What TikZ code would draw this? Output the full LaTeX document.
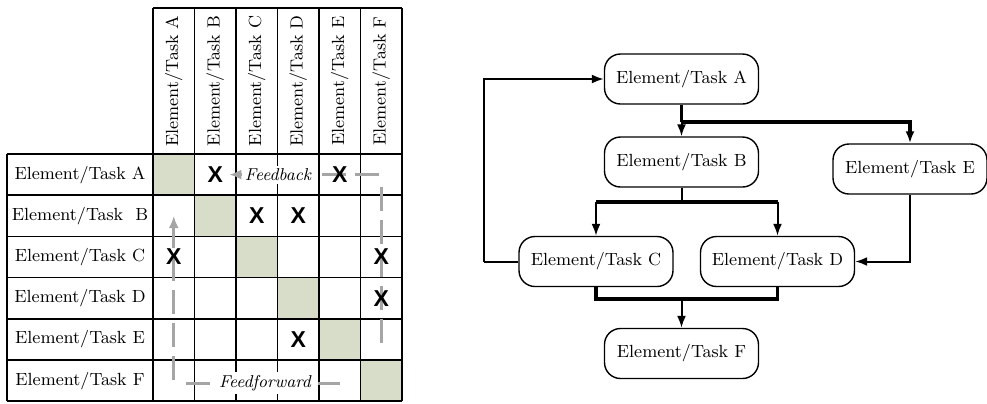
\documentclass[tikz,border=0pt]{standalone}
\usepackage{fontspec}
\usetikzlibrary{arrows.meta}
\newfontfamily\xfont{Liberation Sans}
\definecolor{diagfill}{RGB}{216,221,201}
\definecolor{loopgray}{RGB}{165,165,165}

\begin{document}
\begin{tikzpicture}[x=0.5pt, y=-0.5pt,
        grid/.style = {draw, line width=0.8pt},
        rowlabel/.style = {font=\fontsize{8.8}{10}\selectfont, inner sep=0pt},
        collabel/.style = {rowlabel, rotate=90},
        hit/.style = {font=\xfont\bfseries\fontsize{11.5}{13}\selectfont, inner sep=1pt},
        loopline/.style = {loopgray, line width=1.5pt, dash pattern=on 12pt off 4.5pt},
        looptext/.style = {fill=white, inner sep=1.5pt, font=\itshape\fontsize{8.6}{10}\selectfont},
        task/.style = {draw, line width=0.7pt, rounded corners=8pt, minimum width=77pt, minimum height=25pt, font=\fontsize{8.8}{10}\selectfont},
        flow/.style = {line width=1pt},
        bar/.style = {line width=1.8pt},
        tip/.style = {-{Latex[length=6pt, width=4.5pt]}}]
    \useasboundingbox (0,0) rectangle (987,403);

    % design structure matrix
    \foreach \i in {0,...,5}
        \fill[diagfill] (153+41.5*\i, 154+41.2*\i) rectangle ++(41.5,41.2);
    \foreach \i in {0,...,6}
        \draw[grid] (153+41.5*\i, 8) -- (153+41.5*\i, 401.2);
    \foreach \j in {0,...,6}
        \draw[grid] (7, 154+41.2*\j) -- (402, 154+41.2*\j);
    \draw[grid] (153,8) -- (402,8);
    \draw[grid] (7,154) -- (7,401.2);

    \foreach \t/\s [count=\k from 0] in {A/{}, B/{\ }, C/{}, D/{}, E/{}, F/{}} {
        \node[rowlabel] (r\t) at (80, 174.6+41.2*\k) {Element/Task \s\t};
        \node[collabel] (c\t) at (173.75+41.5*\k, 81) {Element/Task \t};
    }

    \coordinate (fbstart) at (379,174.6);
    \coordinate (fbtop) at (381.25,187);
    \coordinate (fbbot) at (381.25,343);
    \coordinate (ffbot) at (173.75,380);
    \coordinate (fftip) at (173.75,216);
    \coordinate (ffleft) at (186,383);
    \coordinate (ffright) at (340,383);

    \foreach \c/\r in {B/A, E/A, C/B, D/B, A/C, F/C, F/D, D/E}
        \coordinate (p\r\c) at (c\c |- r\r);

    \draw[loopline, -{Latex[length=6pt, width=5pt]}] (fbstart) -- ([xshift=7pt]pAB);
    \draw[loopline] (fbtop) -- (fbbot);
    \draw[loopline, -{Latex[length=6pt, width=5pt]}] (ffbot) -- (fftip);
    \draw[loopline] (ffleft) -- (ffright);
    \node[looptext] (fb) at (278,174.6) {Feedback};
    \node[looptext] (ff) at (265,383) {Feedforward};

    \foreach \c/\r in {B/A, E/A, C/B, D/B, A/C, F/C, F/D, D/E}
        \node[hit] (x\r\c) at (p\r\c) {X};

    % flow chart
    \node[task] (A) at (681.5,79)   {Element/Task A};
    \node[task] (B) at (681.5,162)  {Element/Task B};
    \node[task] (E) at (910,169)    {Element/Task E};
    \node[task] (C) at (596,261.5)  {Element/Task C};
    \node[task] (D) at (777.5,261.5) {Element/Task D};
    \node[task] (F) at (681.5,353.5) {Element/Task F};

    \coordinate (jA) at (681.5,122);
    \coordinate (jB) at (681.5,202);
    \coordinate (jF) at (681.5,299);
    \coordinate (back) at (484,261.5);

    \draw[bar] (A) -- (jA);
    \draw[bar, tip] (jA) -| (E);
    \draw[flow, tip] (jA) -- (B);
    \draw[flow] (B) -- (jB);
    \draw[bar] (C |- jB) -- (D |- jB);
    \draw[flow, tip] (C |- jB) -- (C);
    \draw[flow, tip] (D |- jB) -- (D);
    \draw[flow, tip] (E) |- (D);
    \draw[flow] (C) -- (back);
    \draw[flow, tip] (back) |- (A);
    \draw[bar] (C) |- (jF) -| (D);
    \draw[flow, tip] (jF) -- (F);
\end{tikzpicture}
\end{document}
